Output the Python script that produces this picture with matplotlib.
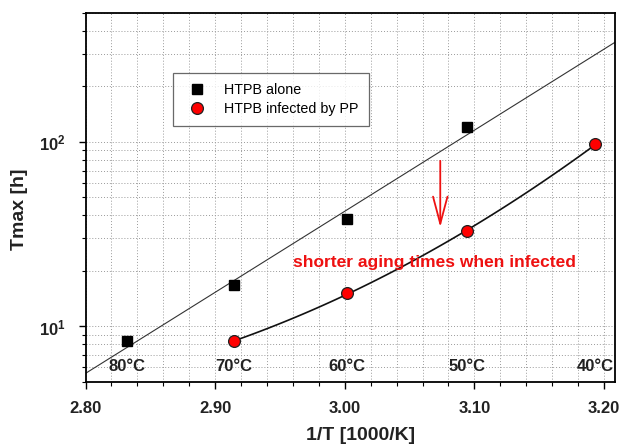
import numpy as np
import matplotlib
matplotlib.use("Agg")
import matplotlib.pyplot as plt
from matplotlib.ticker import FixedLocator, MultipleLocator, LogLocator, NullFormatter

plt.rcParams['font.family'] = ['Liberation Sans', 'DejaVu Sans']
plt.rcParams['mathtext.fontset'] = 'custom'
plt.rcParams['mathtext.rm'] = 'Liberation Sans:bold'
plt.rcParams['mathtext.bf'] = 'Liberation Sans:bold'

######
#   data
######
temps_alone = [80, 70, 60, 50]
tmax_alone = [8.3, 16.7, 38.2, 120.0]

temps_pp = [70, 60, 50, 40]
tmax_pp = [8.3, 15.1, 33.0, 97.0]

temp_labels = [80, 70, 60, 50, 40]
x_ticks = [2.80, 2.90, 3.00, 3.10, 3.20]


def inv_t(t):
    return 1000.0 / (np.array(t, dtype=float) + 273.15)


x_alone = inv_t(temps_alone)
x_pp = inv_t(temps_pp)

fig = plt.figure(figsize=(6.22, 4.46), dpi=100)
ax = fig.add_axes([0.1375, 0.1435, 0.8512, 0.8274])

ax.set_yscale('log')
ax.set_xlim(2.80, 3.2085)
ax.set_ylim(5, 500)

# arrhenius fit for HTPB alone, straight in log space
k, b = np.polyfit(x_alone, np.log10(tmax_alone), 1)
xf = np.linspace(2.80, 3.2085, 50)
ax.plot(xf, 10 ** (k * xf + b), color='#333333', lw=0.8, zorder=2)

# smooth curve through infected points
k2 = np.polyfit(x_pp, np.log10(tmax_pp), 2)
xc = np.linspace(x_pp.min(), x_pp.max(), 100)
ax.plot(xc, 10 ** np.polyval(k2, xc), color='#111111', lw=1.2, zorder=2)

ax.plot(x_alone, tmax_alone, 's', color='black', ms=7.5, zorder=3,
        label='HTPB alone')
ax.plot(x_pp, tmax_pp, 'o', mfc='#ff0000', mec='#202020', mew=0.9, ms=8.5,
        zorder=3, label='HTPB infected by PP')

# temperature labels along the bottom
for t in temp_labels:
    ax.text(inv_t(t), 6.05, '%d°C' % t, ha='center', va='center',
            fontsize=12, fontweight='bold', color='#222222', zorder=4)

ax.annotate('', xy=(3.0737, 34.5), xytext=(3.0737, 79),
            arrowprops=dict(arrowstyle='->,head_length=1.95,head_width=0.52',
                            color='#ee1111', lw=1.3, shrinkA=0, shrinkB=0))
ax.text(3.0695, 22.3, 'shorter aging times when infected', ha='center',
        va='center', fontsize=12.5, fontweight='bold', color='#ee1111', zorder=4)

ax.xaxis.set_major_locator(FixedLocator(x_ticks))
ax.xaxis.set_minor_locator(MultipleLocator(0.02))
ax.set_xticklabels(['%.2f' % v for v in x_ticks])
ax.yaxis.set_major_locator(LogLocator(base=10, numticks=10))
ax.yaxis.set_minor_locator(LogLocator(base=10, subs=np.arange(2, 10), numticks=10))
ax.yaxis.set_minor_formatter(NullFormatter())

ax.grid(True, which='both', color='#9a9a9a', ls=(0, (1, 2)), lw=0.7, zorder=0)
ax.tick_params(which='major', direction='out', length=5, width=1,
               labelsize=12, pad=9)
ax.tick_params(which='minor', direction='out', length=3, width=0.8)
for lab in ax.get_xticklabels() + ax.get_yticklabels():
    lab.set_fontweight('bold')
    lab.set_color('#222222')
for s in ax.spines.values():
    s.set_linewidth(1.3)

ax.set_xlabel('1/T [1000/K]', fontsize=14, fontweight='bold', color='#222222')
ax.set_ylabel('Tmax [h]', fontsize=14, fontweight='bold', color='#222222')
ax.xaxis.set_label_coords(0.52, -0.122)
ax.yaxis.set_label_coords(-0.108, 0.469)

leg = ax.legend(loc='upper left', bbox_to_anchor=(0.165, 0.837), fontsize=10.3,
                frameon=True, fancybox=False, handletextpad=0.9,
                borderpad=0.7, labelspacing=0.35, borderaxespad=0)
leg.get_frame().set_edgecolor('#444444')
leg.get_frame().set_linewidth(0.9)

fig.savefig('out.png', dpi=100)
